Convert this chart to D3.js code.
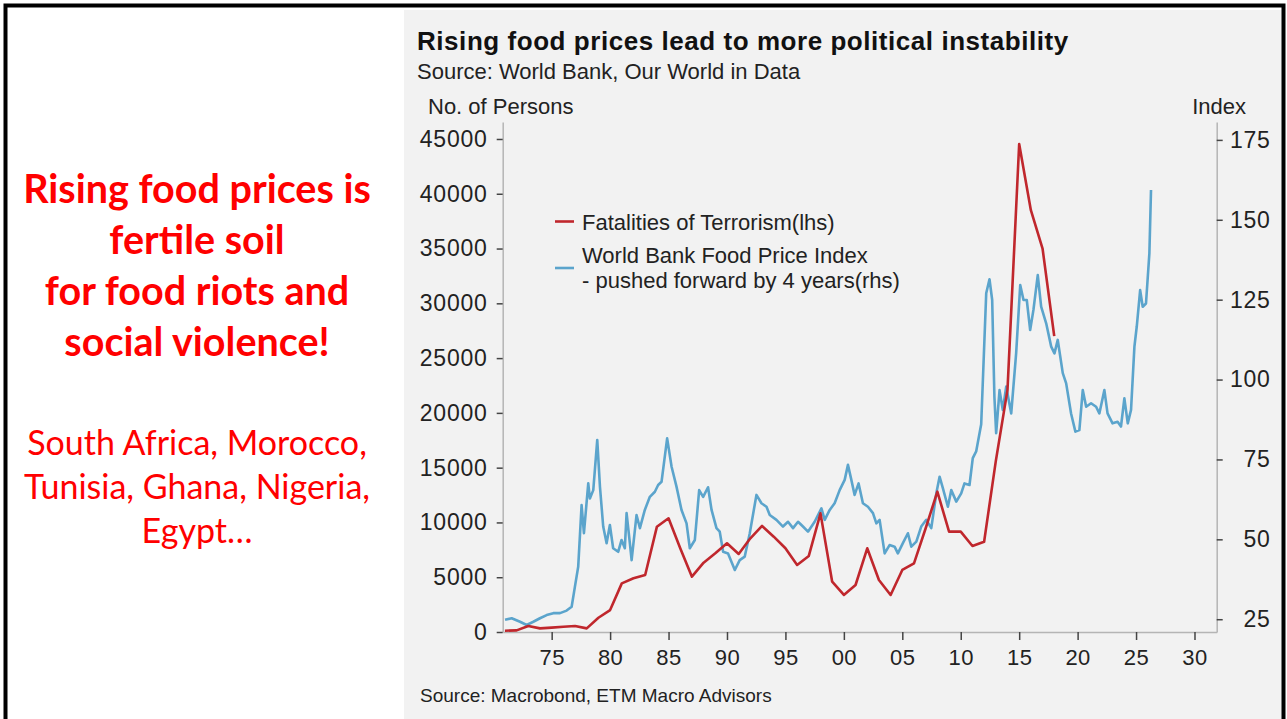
<!DOCTYPE html>
<html><head><meta charset="utf-8">
<script src="https://cdn.jsdelivr.net/npm/d3@7"></script>
<style>body{margin:0;background:#fff;} svg{display:block;}</style>
</head><body>
<svg id="c" width="1287" height="719"></svg>
<script>
// ---- data ----
const redYears = d3.range(1971, 2019);
const redValues = [120,150,550,330,400,480,550,330,1300,2000,
  4440,4900,5200,9600,10380,7640,5050,6330,7180,8100,
  7120,8550,9680,8700,7640,6120,6940,10830,4590,3380,
  4290,7640,4750,3380,5660,6270,9470,12810,9160,9160,
  7850,8240,15600,22100,44540,38500,35000,27000];

const blueYears = [
  1971.01,1971.58,1972.29,1972.86,1973.43,1974.00,1974.57,1975.14,1975.71,1976.28,
  1976.71,1976.99,1977.27,1977.56,1977.76,1978.13,1978.27,1978.56,1978.90,1979.13,
  1979.41,1979.70,1979.98,1980.26,1980.69,1980.98,1981.26,1981.41,1981.69,1981.84,
  1982.26,1982.55,1982.97,1983.40,1983.83,1984.11,1984.40,1984.88,1985.26,1985.68,
  1986.11,1986.54,1986.82,1987.25,1987.62,1987.96,1988.38,1988.68,1989.10,1989.38,
  1989.67,1990.09,1990.67,1991.09,1991.52,1991.95,1992.52,1992.95,1993.38,1993.66,
  1994.23,1994.79,1995.22,1995.65,1996.08,1996.50,1996.93,1997.50,1998.08,1998.36,
  1998.79,1999.21,1999.64,2000.07,2000.35,2000.64,2000.92,2001.26,2001.63,2002.06,
  2002.49,2002.78,2003.06,2003.49,2003.91,2004.34,2004.62,2005.05,2005.48,2005.77,
  2006.20,2006.62,2007.05,2007.48,2007.91,2008.19,2008.47,2008.90,2009.19,2009.62,
  2010.04,2010.32,2010.75,2011.03,2011.32,2011.75,2012.18,2012.46,2012.69,2012.88,
  2013.03,2013.32,2013.60,2013.89,2014.32,2014.74,2015.09,2015.37,2015.65,2015.94,
  2016.22,2016.59,2016.88,2017.31,2017.74,2018.02,2018.30,2018.73,2019.02,2019.44,
  2019.81,2020.15,2020.44,2020.73,2021.15,2021.58,2021.86,2022.29,2022.56,2022.99,
  2023.42,2023.71,2024.00,2024.29,2024.57,2024.86,2025.06,2025.35,2025.57,2025.85,
  2026.14,2026.28];
const blueValues = [
  24.8,25.3,24.2,23.2,24.2,25.3,26.3,26.9,26.9,27.7,
  28.9,35.2,41.4,60.7,51.9,67.5,62.8,65.4,81.1,66.5,
  54,48.8,54.5,47.2,46.1,49.8,47.2,58.2,48.8,43.5,
  57.6,53.5,59.2,63.3,64.9,67,68,81.6,72.7,66.5,
  59.2,55,47.2,49.8,65.4,63.3,66.3,59.2,53.5,52.4,
  46.1,45.6,40.4,43.5,44.6,51.9,63.9,61.3,60.2,57.6,
  56.1,54,55.5,53.5,55.5,54,52.4,55.5,59.7,56.1,
  59.2,61.3,65.4,68.6,73.3,68.6,63.9,67.5,61.3,60.2,
  58.2,55,56.1,45.6,48.2,47.7,45.6,48.8,51.9,47.7,
  49.3,54,56.1,53.5,64.4,69.6,66,60.2,65.4,61.8,
  64.4,67.5,67,75.4,77.5,86,127,131.4,124.9,94.6,
  83.2,96.7,90.5,97.8,89.4,108.2,129.6,124.9,124.9,115.5,
  121.8,132.7,122.8,117.6,110.3,108.2,112.4,102,98.8,89.4,
  83.7,84.2,96.7,91.5,92.6,91.5,89.4,96.7,89.4,86.3,
  86.8,85.3,94.1,86.3,90.5,110.3,116.6,128,122.8,123.8,
  139.5,159.3];

const xTickYears = [1975,1980,1985,1990,1995,2000,2005,2010,2015,2020,2025,2030];
const xTickLabels = ["75","80","85","90","95","00","05","10","15","20","25","30"];
const leftTicks = [0,5000,10000,15000,20000,25000,30000,35000,40000,45000];
const rightTicks = [25,50,75,100,125,150,175];

const seriesNames = ["Fatalities of Terrorism(lhs)", "World Bank Food Price Index", "- pushed forward by 4 years(rhs)"];
const leftLines = ["Rising food prices is", "fertile soil", "for food riots and", "social violence!"];
const leftLines2 = ["South Africa, Morocco,", "Tunisia, Ghana, Nigeria,", "Egypt…"];

// ---- drawing ----
const svg = d3.select("#c");
const RED = "#c0272d", BLUE = "#5ba4cc";
const FONT = "'Liberation Sans', Arial, sans-serif";

svg.append("rect").attr("x",0).attr("y",0).attr("width",1287).attr("height",719).attr("fill","#fff");
svg.append("rect").attr("x",404).attr("y",10).attr("width",878).attr("height",709).attr("fill","#f2f2f2");
svg.append("rect").attr("x",5.5).attr("y",5.5).attr("width",1278).attr("height",720)
  .attr("fill","none").attr("stroke","#000").attr("stroke-width",4);

// left text
const lt = svg.append("g").attr("font-family","Lato, 'Open Sans', sans-serif").attr("fill","#ff0000").attr("text-anchor","middle");
leftLines.forEach((t,i)=>{
  lt.append("text").attr("x",197).attr("y",203 + i*51).attr("font-size",39.5).attr("font-weight","bold").text(t);
});
leftLines2.forEach((t,i)=>{
  lt.append("text").attr("x",197).attr("y",455 + i*44).attr("font-size",34).text(t);
});

const x = d3.scaleLinear().domain([1970.81, 2031.9]).range([502.7, 1216.7]);
const yL = d3.scaleLinear().domain([0, 46550]).range([632, 122]);
const yR = d3.scaleLinear().domain([21.0, 180.6]).range([632, 122]);

// titles
svg.append("text").attr("x",417).attr("y",50).attr("font-family",FONT).attr("font-weight","bold")
  .attr("font-size",26).attr("letter-spacing",0.55).attr("fill","#111").text("Rising food prices lead to more political instability");
svg.append("text").attr("x",417).attr("y",79).attr("font-family",FONT).attr("font-size",22).attr("fill","#222")
  .text("Source: World Bank, Our World in Data");
svg.append("text").attr("x",428).attr("y",114).attr("font-family",FONT).attr("font-size",22).attr("fill","#222")
  .text("No. of Persons");
svg.append("text").attr("x",1246).attr("y",114).attr("text-anchor","end").attr("font-family",FONT).attr("font-size",22).attr("fill","#222")
  .text("Index");
svg.append("text").attr("x",420).attr("y",702).attr("font-family",FONT).attr("font-size",19).attr("fill","#222")
  .text("Source: Macrobond, ETM Macro Advisors");

// axes
function styleAxis(g, fs, ls){
  g.select(".domain").attr("stroke","#b5b5b5").attr("stroke-width",1.5);
  g.selectAll(".tick line").attr("stroke","#444").attr("stroke-width",1.5);
  g.selectAll(".tick text").attr("fill","#222").attr("font-family",FONT).attr("font-size",fs).attr("letter-spacing",ls);
}
const gL = svg.append("g").attr("transform","translate(502.7,0)")
  .call(d3.axisLeft(yL).tickValues(leftTicks).tickSize(6).tickSizeOuter(0).tickPadding(9).tickFormat(d3.format("d")));
styleAxis(gL, 23, 0.8);
const gR = svg.append("g").attr("transform","translate(1216.7,0)")
  .call(d3.axisRight(yR).tickValues(rightTicks).tickSize(6).tickSizeOuter(0).tickPadding(9));
styleAxis(gR, 23, 0.8);
gR.selectAll(".tick text").attr("text-anchor","end").attr("x",54);
const gB = svg.append("g").attr("transform","translate(0,632)")
  .call(d3.axisBottom(x).tickValues(xTickYears).tickSize(8).tickSizeOuter(0).tickPadding(9)
    .tickFormat((d,i)=>xTickLabels[i]));
styleAxis(gB, 22, 0.5);

// lines
const blueData = blueYears.map((yr,i)=>[yr, blueValues[i]]);
const redData = redYears.map((yr,i)=>[yr, redValues[i]]);
svg.append("path").datum(blueData).attr("fill","none").attr("stroke",BLUE).attr("stroke-width",2.6)
  .attr("stroke-linejoin","round")
  .attr("d", d3.line().x(d=>x(d[0])).y(d=>yR(d[1])));
svg.append("path").datum(redData).attr("fill","none").attr("stroke",RED).attr("stroke-width",2.6)
  .attr("stroke-linejoin","round")
  .attr("d", d3.line().x(d=>x(d[0])).y(d=>yL(d[1])));

// legend
const lg = svg.append("g").attr("font-family",FONT).attr("font-size",22).attr("fill","#222");
lg.append("line").attr("x1",555).attr("x2",574).attr("y1",221.5).attr("y2",221.5).attr("stroke",RED).attr("stroke-width",2.6);
lg.append("text").attr("x",582).attr("y",230).text(seriesNames[0]);
lg.append("line").attr("x1",555).attr("x2",574).attr("y1",268).attr("y2",268).attr("stroke",BLUE).attr("stroke-width",2.6);
lg.append("text").attr("x",582).attr("y",263).text(seriesNames[1]);
lg.append("text").attr("x",582).attr("y",288).text(seriesNames[2]);
</script>
</body></html>
